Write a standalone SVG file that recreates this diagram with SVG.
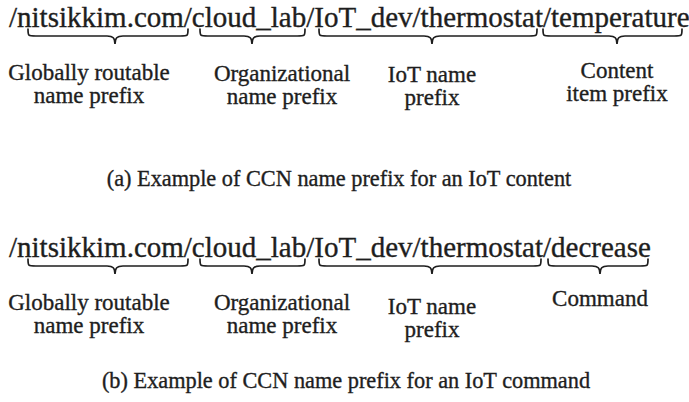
<svg xmlns="http://www.w3.org/2000/svg" width="689" height="402" viewBox="0 0 689 402">
<style>
.t{font-family:"Liberation Serif","Times New Roman",serif;fill:#1e1e1e;stroke:#1e1e1e;stroke-width:0.35}
.n{font-size:29px}
.l{font-size:23px;text-anchor:middle}
.c{font-size:22.3px;text-anchor:middle}
.b{fill:none;stroke:#1e1e1e;stroke-width:1.7;stroke-linecap:round}
</style>
<rect width="689" height="402" fill="#fff"/>
<g id="name-a">
<text class="t n" x="9" y="27">/nitsikkim.com/cloud_lab/IoT_dev/thermostat/temperature</text>
</g>
<g id="braces-a">
<path class="b" d="M28,29 C28,36 28,36 36,36 L107,36 C113,36 115,38 115,44 C115,38 117,36 123,36 L180,36 C188,36 188,36 188,29"/>
<path class="b" d="M200,29 C200,36 200,36 208,36 L244,36 C250,36 252,38 252,44 C252,38 254,36 260,36 L297,36 C305,36 305,36 305,29"/>
<path class="b" d="M319,29 C319,36 319,36 327,36 L424,36 C430,36 432,38 432,44 C432,38 434,36 440,36 L529,36 C537,36 537,36 537,29"/>
<path class="b" d="M543,29 C543,36 543,36 551,36 L609,36 C615,36 617,38 617,44 C617,38 619,36 625,36 L674,36 C682,36 682,36 682,29"/>
</g>
<g id="labels-a">
<text class="t l" x="89" y="80">Globally routable</text>
<text class="t l" x="89" y="103">name prefix</text>
<text class="t l" x="282" y="81">Organizational</text>
<text class="t l" x="282" y="104">name prefix</text>
<text class="t l" x="432" y="82">IoT name</text>
<text class="t l" x="432" y="105">prefix</text>
<text class="t l" x="617" y="78">Content</text>
<text class="t l" x="617" y="101">item prefix</text>
</g>
<g id="caption-a">
<text class="t c" x="339" y="186">(a) Example of CCN name prefix for an IoT content</text>
</g>
<g id="name-b">
<text class="t n" x="9" y="257">/nitsikkim.com/cloud_lab/IoT_dev/thermostat/decrease</text>
</g>
<g id="braces-b">
<path class="b" d="M28,259 C28,266 28,266 36,266 L107,266 C113,266 115,268 115,274 C115,268 117,266 123,266 L180,266 C188,266 188,266 188,259"/>
<path class="b" d="M200,259 C200,266 200,266 208,266 L244,266 C250,266 252,268 252,274 C252,268 254,266 260,266 L297,266 C305,266 305,266 305,259"/>
<path class="b" d="M319,259 C319,266 319,266 327,266 L424,266 C430,266 432,268 432,274 C432,268 434,266 440,266 L533,266 C541,266 541,266 541,259"/>
<path class="b" d="M548,259 C548,266 548,266 556,266 L592,266 C598,266 600,268 600,274 C600,268 602,266 608,266 L640,266 C648,266 648,266 648,259"/>
</g>
<g id="labels-b">
<text class="t l" x="89" y="310">Globally routable</text>
<text class="t l" x="89" y="333">name prefix</text>
<text class="t l" x="282" y="310">Organizational</text>
<text class="t l" x="282" y="333">name prefix</text>
<text class="t l" x="432" y="314">IoT name</text>
<text class="t l" x="432" y="337">prefix</text>
<text class="t l" x="600" y="306">Command</text>
</g>
<g id="caption-b">
<text class="t c" x="346" y="388">(b) Example of CCN name prefix for an IoT command</text>
</g>
</svg>
